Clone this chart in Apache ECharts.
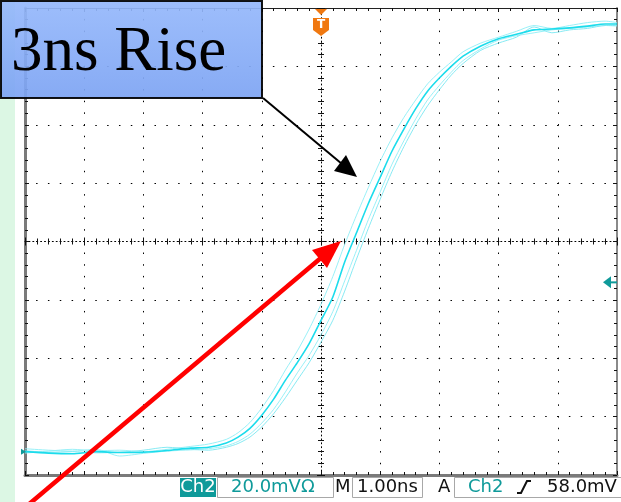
<!DOCTYPE html>
<html>
<head>
<meta charset="utf-8">
<script src="https://cdn.jsdelivr.net/npm/echarts@6/dist/echarts.min.js"></script>
<style>
  html, body { margin: 0; padding: 0; background: #ffffff; }
  #scope { width: 621px; height: 502px; }
</style>
</head>
<body>
<div id="scope"></div>
<script>
// Sample times (ns, trigger at 0) shared by every acquisition
const TIME_NS = [-5.0, -4.6, -4.2, -3.8, -3.4, -3.0, -2.6, -2.2, -1.9, -1.6, -1.4, -1.2, -1.0, -0.8, -0.6, -0.4, -0.2,
  0.0, 0.2, 0.4, 0.6, 0.8, 1.0, 1.2, 1.4, 1.6, 1.8, 2.0, 2.2, 2.4, 2.7, 3.0, 3.3, 3.6, 3.9, 4.2, 4.5, 4.8, 5.0];

// Channel 2 voltage (mV), four overlaid acquisitions (persistence display)
const TRACE_MAIN = [0.0, -0.5, -0.7, 0.0, -0.3, -0.2, 0.4, 1.2, 1.5, 3.0, 5.0, 8.0, 12.5, 18.0, 24.5, 30.5, 37.0,
  45.0, 53.0, 65.0, 75.0, 85.0, 94.0, 103.0, 110.5, 117.5, 123.5, 128.0, 132.0, 135.5, 139.0, 141.5, 143.0, 144.5, 144.8, 145.2, 145.8, 146.5, 146.5];
const TRACE_LATE = [1.0, 0.5, 0.2, 0.8, -1.5, -0.6, 0.2, 0.6, 1.0, 2.0, 3.5, 6.0, 9.8, 14.5, 20.5, 27.0, 33.0,
  40.0, 48.0, 58.5, 69.0, 79.5, 89.0, 98.5, 106.5, 114.0, 120.5, 125.5, 130.0, 134.0, 138.0, 141.0, 142.5, 143.5, 144.5, 145.0, 145.5, 146.0, 145.8];
const TRACE_EARLY = [-0.5, 0.2, 0.8, 0.3, 0.5, 0.0, 0.8, 1.8, 2.6, 4.2, 6.5, 10.0, 15.0, 21.0, 28.0, 34.5, 42.0,
  50.5, 60.0, 71.0, 81.0, 90.5, 99.5, 107.5, 114.5, 120.5, 126.0, 130.0, 133.5, 137.0, 140.0, 142.0, 144.0, 146.0, 145.0, 146.0, 147.0, 147.5, 147.0];
const TRACE_LATEST = [0.3, -0.2, 0.0, -0.4, -0.2, 0.5, 1.5, 0.8, 0.5, 1.5, 2.8, 5.0, 8.5, 13.0, 18.5, 24.5, 30.5,
  37.5, 45.0, 55.0, 66.0, 76.5, 86.5, 96.0, 104.5, 112.0, 118.5, 124.0, 129.0, 133.0, 137.5, 140.0, 142.0, 145.5, 143.5, 144.5, 145.0, 146.0, 146.0];

// Screen settings
const VOLTS_PER_DIV = 20.0;      // mV
const GROUND_OFFSET_DIV = 3.6;   // ground marker below screen centre
const TRIGGER_MV = 58.0;
const TITLE = '3ns Rise';
const STATUS_CH = 'Ch2';
const STATUS_SCALE = '20.0mV\u03a9';
const STATUS_TIMEBASE = '1.00ns';
const STATUS_TRIG_CH = 'Ch2';
const STATUS_TRIG_LEVEL = '58.0mV';

const mvMin = -(4 - GROUND_OFFSET_DIV) * VOLTS_PER_DIV;
const mvMax = mvMin + 8 * VOLTS_PER_DIV;

const pairs = (vals) => TIME_NS.map((t, i) => [t, vals[i]]);

const TEAL = '#0f9a9a';
const TICK = { color: '#111', width: 1 };

function hAxis(position, opts) {
  return Object.assign({
    type: 'value', min: -5, max: 5, interval: 1, position: position,
    axisLine: { show: true, onZero: false, lineStyle: { color: '#222', width: 1 } },
    axisTick: { show: true, inside: true, length: 4, lineStyle: TICK },
    minorTick: { show: true, splitNumber: 5, length: 3, lineStyle: TICK },
    axisLabel: { show: false }, splitLine: { show: false }, minorSplitLine: { show: false },
    axisPointer: { show: false }
  }, opts || {});
}
function vAxis(position, opts) {
  return Object.assign({
    type: 'value', min: -4, max: 4, interval: 1, position: position,
    axisLine: { show: true, onZero: false, lineStyle: { color: '#222', width: 1 } },
    axisTick: { show: true, inside: true, length: 4, lineStyle: TICK },
    minorTick: { show: true, splitNumber: 5, length: 3, lineStyle: TICK },
    axisLabel: { show: false }, splitLine: { show: false }, minorSplitLine: { show: false },
    axisPointer: { show: false }
  }, opts || {});
}

const chart = echarts.init(document.getElementById('scope'), null, { renderer: 'canvas' });

const traceStyle = (color, width, opacity) => ({
  type: 'line', xAxisIndex: 0, yAxisIndex: 4, showSymbol: false, smooth: 0.25,
  silent: true, animation: false,
  lineStyle: { color: color, width: width, opacity: opacity }
});

const option = {
  animation: false,
  backgroundColor: '#ffffff',
  grid: { left: 25, right: 4, top: 8, bottom: 27, outerBoundsMode: 'none', containLabel: false },
  xAxis: [
    hAxis('bottom', {
      axisLine: { show: true, onZero: false, lineStyle: { color: '#7a7a7a', width: 3 } },
      splitLine: { show: true, lineStyle: { color: '#000', width: 1, type: [1.5, 10.18], dashOffset: 0.75 } }
    }),
    hAxis('top'),
    hAxis('bottom', {
      axisLine: { show: true, onZero: true, onZeroAxisIndex: 0, lineStyle: { color: '#000', width: 1, type: [1, 2.9] } },
      axisTick: { show: true, inside: true, length: 4, lineStyle: TICK },
      minorTick: { show: true, splitNumber: 5, length: 3, lineStyle: TICK }
    }),
    hAxis('bottom', {
      axisLine: { show: false, onZero: true, onZeroAxisIndex: 0 },
      axisTick: { show: true, inside: false, length: 4, lineStyle: TICK },
      minorTick: { show: true, splitNumber: 5, length: 3, lineStyle: TICK }
    })
  ],
  yAxis: [
    vAxis('left', {
      axisLine: { show: true, onZero: false, lineStyle: { color: '#7a7a7a', width: 3 } },
      splitLine: { show: true, lineStyle: { color: '#000', width: 1, type: [1.5, 10.34], dashOffset: 0.75 } }
    }),
    vAxis('right', { axisLine: { show: true, onZero: false, lineStyle: { color: '#8a8a8a', width: 2 } } }),
    vAxis('left', {
      axisLine: { show: true, onZero: true, onZeroAxisIndex: 0, lineStyle: { color: '#000', width: 1, type: [1, 2.9] } },
      axisTick: { show: true, inside: true, length: 4, lineStyle: TICK },
      minorTick: { show: true, splitNumber: 5, length: 3, lineStyle: TICK }
    }),
    vAxis('left', {
      axisLine: { show: false, onZero: true, onZeroAxisIndex: 0 },
      axisTick: { show: true, inside: false, length: 4, lineStyle: TICK },
      minorTick: { show: true, splitNumber: 5, length: 3, lineStyle: TICK }
    }),
    { type: 'value', show: false, min: mvMin, max: mvMax, splitLine: { show: false } }
  ],
  series: [
    Object.assign(traceStyle('#8eeef6', 1, 0.9), { name: 'acq 2', data: pairs(TRACE_LATE) }),
    Object.assign(traceStyle('#8eeef6', 1, 0.9), { name: 'acq 3', data: pairs(TRACE_EARLY) }),
    Object.assign(traceStyle('#7ae8f2', 1, 0.9), { name: 'acq 4', data: pairs(TRACE_LATEST) }),
    Object.assign(traceStyle('#1cdcec', 1.6, 1), { name: 'acq 1', data: pairs(TRACE_MAIN) })
  ]
};
chart.setOption(option);

// Screen markers placed through the chart's own scales
const trigPt = chart.convertToPixel({ seriesIndex: 0 }, [0, TRIGGER_MV]);
const gndPt = chart.convertToPixel({ seriesIndex: 0 }, [-5, 0]);
const tx = trigPt[0];
const ty = trigPt[1];
const gy = gndPt[1];

const STATUS_FONT = '18px "DejaVu Sans", sans-serif';
const statusY = 487;

const graphics = [
  // slide margin panel
  { type: 'rect', shape: { x: 0, y: 0, width: 15, height: 502 }, style: { fill: '#dcf7e4' }, z: -10, silent: true },

  // ground reference marker
  { type: 'polygon', shape: { points: [[21, gy - 3], [26, gy], [21, gy + 3]] }, style: { fill: TEAL }, z: 5, silent: true },

  // trigger level marker on right edge
  { type: 'polygon', shape: { points: [[603, ty], [611, ty - 6], [611, ty + 6]] }, style: { fill: TEAL }, z: 5, silent: true },
  { type: 'line', shape: { x1: 609, y1: ty, x2: 617, y2: ty }, style: { stroke: TEAL, lineWidth: 2 }, z: 5, silent: true },

  // trigger position marker
  { type: 'polygon', shape: { points: [[tx - 6, 9], [tx + 6, 9], [tx, 15]] }, style: { fill: '#f07810' }, z: 5, silent: true },
  { type: 'polygon', shape: { points: [[tx - 8, 18], [tx + 8, 18], [tx + 8, 30], [tx, 36], [tx - 8, 30]] }, style: { fill: '#f07810' }, z: 5, silent: true },
  { type: 'text', x: tx, y: 25, style: { text: 'T', fill: '#fff', font: 'bold 12px "DejaVu Sans", sans-serif', align: 'center', verticalAlign: 'middle' }, z: 6, silent: true },

  // status bar
  { type: 'rect', shape: { x: 180, y: 478, width: 36, height: 19 }, style: { fill: TEAL }, z: 5, silent: true },
  { type: 'text', x: 198, y: statusY, style: { text: STATUS_CH, fill: '#fff', align: 'center', verticalAlign: 'middle', font: STATUS_FONT }, z: 6, silent: true },
  { type: 'rect', shape: { x: 217.5, y: 477.5, width: 116, height: 20 }, style: { fill: '#fff', stroke: '#a8a8a8', lineWidth: 1 }, z: 5, silent: true },
  { type: 'text', x: 231, y: statusY, style: { text: STATUS_SCALE, fill: TEAL, verticalAlign: 'middle', font: STATUS_FONT }, z: 6, silent: true },
  { type: 'text', x: 335, y: statusY, style: { text: 'M', fill: '#111', verticalAlign: 'middle', font: STATUS_FONT }, z: 6, silent: true },
  { type: 'rect', shape: { x: 352.5, y: 477.5, width: 70, height: 20 }, style: { fill: '#fff', stroke: '#a8a8a8', lineWidth: 1 }, z: 5, silent: true },
  { type: 'text', x: 357, y: statusY, style: { text: STATUS_TIMEBASE, fill: '#111', verticalAlign: 'middle', font: STATUS_FONT }, z: 6, silent: true },
  { type: 'text', x: 438, y: statusY, style: { text: 'A', fill: '#111', verticalAlign: 'middle', font: STATUS_FONT }, z: 6, silent: true },
  { type: 'rect', shape: { x: 454.5, y: 477.5, width: 170, height: 20 }, style: { fill: '#fff', stroke: '#a8a8a8', lineWidth: 1 }, z: 5, silent: true },
  { type: 'text', x: 468, y: statusY, style: { text: STATUS_TRIG_CH, fill: TEAL, verticalAlign: 'middle', font: STATUS_FONT }, z: 6, silent: true },
  { type: 'polyline', shape: { points: [[517, 493], [521, 493], [527, 481], [531, 481]] }, style: { stroke: '#111', lineWidth: 2, fill: null }, z: 6, silent: true },
  { type: 'text', x: 547, y: statusY, style: { text: STATUS_TRIG_LEVEL, fill: '#111', verticalAlign: 'middle', font: STATUS_FONT }, z: 6, silent: true },

  // annotation callout
  {
    type: 'rect', shape: { x: 1, y: 1, width: 261, height: 97 },
    style: {
      fill: { type: 'linear', x: 0, y: 0, x2: 0, y2: 1, colorStops: [{ offset: 0, color: '#95b8fb' }, { offset: 1, color: '#7ca3f3' }] },
      stroke: '#000', lineWidth: 2, opacity: 0.92
    }, z: 50, silent: true
  },
  { type: 'text', x: 11, y: 85, style: { text: TITLE, fill: '#000', font: '63px "Liberation Serif", "DejaVu Serif", serif', verticalAlign: 'bottom' }, z: 51, silent: true },

  // pointer from callout
  { type: 'line', shape: { x1: 263, y1: 98, x2: 342, y2: 164 }, style: { stroke: '#000', lineWidth: 2 }, z: 52, silent: true },
  { type: 'polygon', shape: { points: [[357, 177], [334, 171], [346, 155]] }, style: { fill: '#000' }, z: 52, silent: true },

  // red pointer
  { type: 'line', shape: { x1: 28, y1: 505, x2: 322, y2: 257 }, style: { stroke: '#ff0000', lineWidth: 4.5 }, z: 53, silent: true },
  { type: 'polygon', shape: { points: [[341, 241], [312, 250], [327, 268]] }, style: { fill: '#ff0000' }, z: 53, silent: true }
];

chart.setOption({ graphic: graphics });
</script>
</body>
</html>
